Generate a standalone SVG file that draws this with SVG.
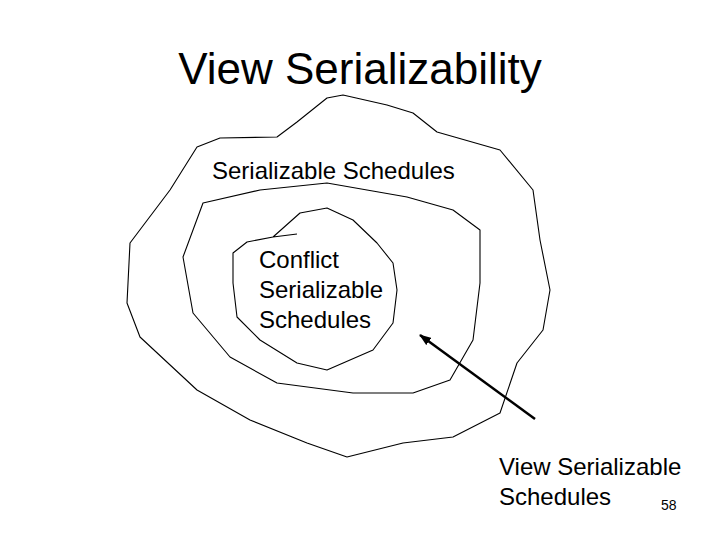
<svg xmlns="http://www.w3.org/2000/svg" width="720" height="540" viewBox="0 0 720 540">
<style>
.c{fill:none;stroke:#000;stroke-width:1.1;stroke-linejoin:round}
text{font-family:"Liberation Sans",Arial,sans-serif;fill:#000}
.l{font-size:24px}
</style>
<defs><marker id="ah" markerWidth="12" markerHeight="9" refX="11" refY="4.5" orient="auto" markerUnits="userSpaceOnUse"><path d="M0,0 L12,4.5 L0,9 z" fill="#000"/></marker></defs>
<rect width="720" height="540" fill="#fff"/>
<text x="360" y="84" font-size="44" text-anchor="middle">View Serializability</text>
<g id="outer"><path class="c" d="M277,137 L297,122 L327,98 L343,95 L387,105 L413,113 L437,132 L500,150 L533,190 L540,240 L550,290 L543,330 L517,363 L500,413 L453,437 L403,443 L347,457 L307,443 L250,420 L197,390 L140,337 L127,303 L130,243 L170,190 L197,147 L220,138 Z"/>
<text class="l" x="212" y="179">Serializable Schedules</text></g>
<g id="middle"><path class="c" d="M203,203 L260,190 L327,183 L407,197 L453,210 L480,230 L480,283 L473,340 L450,380 L413,393 L353,393 L277,383 L230,357 L193,313 L183,257 Z"/></g>
<g id="inner"><path class="c" d="M297,234 L273,237 L300,213 L327,208 L353,220 L377,243 L393,263 L397,290 L393,323 L373,350 L327,370 L297,363 L260,340 L237,317 L233,283 L233,253 L247,242 L273,237"/>
<text class="l" x="259" y="268">Conflict</text>
<text class="l" x="259" y="298">Serializable</text>
<text class="l" x="259" y="328">Schedules</text></g>
<g id="connectors"><line x1="535" y1="419" x2="420" y2="335" stroke="#000" stroke-width="2.5" marker-end="url(#ah)"/></g>
<g id="label"><text class="l" x="499" y="475">View Serializable</text>
<text class="l" x="499" y="505">Schedules</text></g>
<text x="661" y="510" font-size="14">58</text>
</svg>
